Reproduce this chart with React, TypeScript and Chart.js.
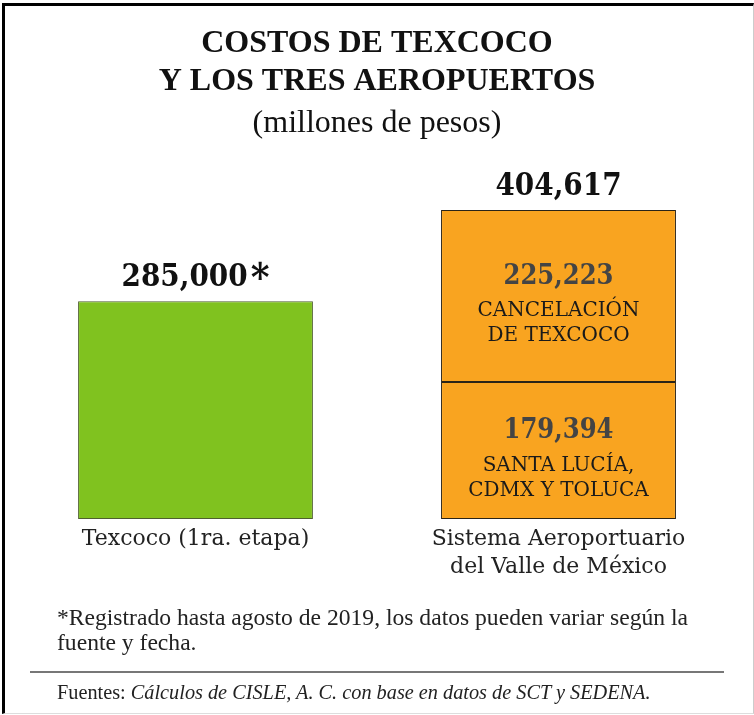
import React, { useEffect, useRef } from "react";
import { Chart, registerables } from "chart.js";

Chart.register(...registerables);

const titleLines = ["COSTOS DE TEXCOCO", "Y LOS TRES AEROPUERTOS"];
const subtitleText = "(millones de pesos)";
const categories: (string | string[])[] = [
  "Texcoco (1ra. etapa)",
  ["Sistema Aeroportuario", "del Valle de México"],
];
const texcocoValues = [285000, null];
const santaLuciaValues = [null, 179394];
const cancelacionValues = [null, 225223];
const texcocoSuffix = "*";
const santaLuciaLines = ["SANTA LUCÍA,", "CDMX Y TOLUCA"];
const cancelacionLines = ["CANCELACIÓN", "DE TEXCOCO"];
const footnoteText = "*Registrado hasta agosto de 2019, los datos pueden variar según la fuente y fecha.";
const sourceLabel = "Fuentes: ";
const sourceText = "Cálculos de CISLE, A. C. con base en datos de SCT y SEDENA.";

const GREEN = "#80C21F";
const ORANGE = "#F9A420";
const NUM_FONT = '"DejaVu Serif Condensed", "DejaVu Serif", serif';
const LABEL_FONT = '"DejaVu Serif", serif';

const fmt = (v: number) => v.toLocaleString("en-US");

const labelsPlugin = {
  id: "valueLabels",
  afterDatasetsDraw(chart: any) {
    const ctx = chart.ctx;
    ctx.save();
    ctx.textBaseline = "middle";
    const nCat = chart.data.labels.length;
    for (let i = 0; i < nCat; i++) {
      let total = 0;
      let topY = Infinity;
      let x = 0;
      let hasStar = false;
      chart.data.datasets.forEach((ds: any, di: number) => {
        const v = ds.data[i];
        if (v == null) return;
        total += v;
        const el = chart.getDatasetMeta(di).data[i];
        if (el.y < topY) {
          topY = el.y;
          x = el.x;
        }
        if (ds.suffix) hasStar = true;
      });
      if (total > 0) {
        ctx.fillStyle = "#111";
        const main = fmt(total);
        ctx.font = `bold 31px ${NUM_FONT}`;
        const w1 = ctx.measureText(main).width;
        let w2 = 0;
        if (hasStar) {
          ctx.font = `bold 40px ${NUM_FONT}`;
          w2 = ctx.measureText(texcocoSuffix).width + 3;
        }
        const start = x - (w1 + w2) / 2;
        ctx.textAlign = "left";
        ctx.font = `bold 31px ${NUM_FONT}`;
        ctx.fillText(main, start, topY - 23);
        if (hasStar) {
          ctx.font = `bold 40px ${NUM_FONT}`;
          ctx.fillText(texcocoSuffix, start + w1 + 3, topY - 21);
        }
      }
    }
    ctx.textAlign = "center";
    chart.data.datasets.forEach((ds: any, di: number) => {
      if (!ds.innerLines) return;
      const meta = chart.getDatasetMeta(di);
      meta.data.forEach((el: any, i: number) => {
        const v = ds.data[i];
        if (v == null) return;
        const cy = (el.y + el.base) / 2;
        ctx.font = `bold 27px ${NUM_FONT}`;
        ctx.fillStyle = "#444";
        ctx.fillText(fmt(v), el.x, cy - 19.5);
        ctx.font = `20px ${LABEL_FONT}`;
        ctx.fillStyle = "#1a1a1a";
        ds.innerLines.forEach((t: string, k: number) => {
          ctx.fillText(t, el.x, cy + 15 + k * 25);
        });
      });
    });
    ctx.restore();
  },
};

export default function App() {
  const ref = useRef<HTMLCanvasElement | null>(null);
  useEffect(() => {
    if (!ref.current) return;
    const chart = new Chart(ref.current, {
      type: "bar",
      data: {
        labels: categories as any,
        datasets: [
          {
            label: "Texcoco",
            data: texcocoValues as any,
            backgroundColor: GREEN,
            borderColor: "#4f5f30",
            borderWidth: 1,
            borderSkipped: false,
            stack: "s",
            suffix: true,
          } as any,
          {
            label: "Santa Lucía, CDMX y Toluca",
            data: santaLuciaValues as any,
            backgroundColor: ORANGE,
            borderColor: "#2a2418",
            borderWidth: 1,
            borderSkipped: false,
            stack: "s",
            innerLines: santaLuciaLines,
          } as any,
          {
            label: "Cancelación de Texcoco",
            data: cancelacionValues as any,
            backgroundColor: ORANGE,
            borderColor: "#2a2418",
            borderWidth: 1,
            borderSkipped: false,
            stack: "s",
            innerLines: cancelacionLines,
          } as any,
        ],
      },
      options: {
        animation: false,
        responsive: false,
        maintainAspectRatio: false,
        layout: { padding: { left: 14, right: 14, top: 0, bottom: 135 } },
        datasets: { bar: { categoryPercentage: 1, barPercentage: 0.647 } },
        scales: {
          x: {
            stacked: true,
            grid: { display: false },
            border: { display: false },
            ticks: {
              color: "#222",
              padding: -1,
              font: { family: LABEL_FONT, size: 22, lineHeight: 1.25 },
              maxRotation: 0,
            },
          },
          y: {
            stacked: true,
            display: false,
            min: 0,
            max: 495000,
          },
        },
        plugins: {
          legend: { display: false },
          tooltip: { enabled: false },
          title: {
            display: true,
            text: titleLines,
            color: "#111",
            font: { family: '"Liberation Serif", serif', size: 32, weight: "bold", lineHeight: "38px" },
            padding: { top: 25, bottom: 5 },
          },
          subtitle: {
            display: true,
            text: subtitleText,
            color: "#111",
            font: { family: '"Liberation Serif", serif', size: 32, weight: "normal", lineHeight: "35px" },
            padding: { top: 0, bottom: 0 },
          },
        },
      } as any,
      plugins: [labelsPlugin],
    });
    return () => chart.destroy();
  }, []);

  return (
    <div style={{ position: "absolute", left: 0, top: 0, width: 754, height: 715, background: "#fff", overflow: "hidden" }}>
      <div
        style={{
          position: "absolute",
          left: 2,
          top: 3,
          width: 752,
          height: 711,
          boxSizing: "border-box",
          borderLeft: "3px solid #000",
          borderTop: "3px solid #000",
          borderRight: "1px solid #ccc",
          borderBottom: "1px solid #ddd",
        }}
      />
      <canvas ref={ref} width={754} height={715} style={{ position: "absolute", left: 0, top: 0, width: 754, height: 715 }} />
      <div
        style={{
          position: "absolute",
          left: 57,
          top: 605,
          width: 645,
          fontFamily: '"Liberation Serif", serif',
          fontSize: 23.6,
          lineHeight: "25px",
          color: "#222",
        }}
      >
        {footnoteText}
      </div>
      <div style={{ position: "absolute", left: 30, top: 671, width: 694, height: 0, borderTop: "2px solid #777" }} />
      <div
        style={{
          position: "absolute",
          left: 57,
          top: 681,
          whiteSpace: "nowrap",
          fontFamily: '"Liberation Serif", serif',
          fontSize: 20.3,
          lineHeight: "22px",
          color: "#222",
        }}
      >
        {sourceLabel}
        <i>{sourceText}</i>
      </div>
    </div>
  );
}
